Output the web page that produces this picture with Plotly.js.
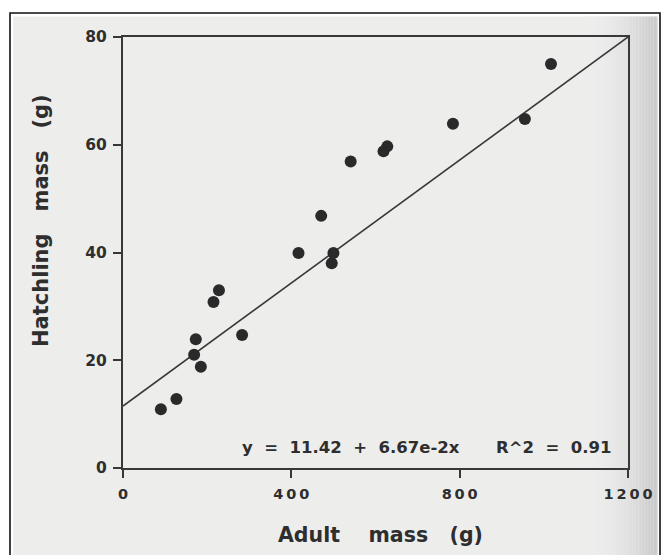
<!DOCTYPE html>
<html>
<head>
<meta charset="utf-8">
<script src="https://cdn.plot.ly/plotly-3.0.1.min.js"></script>
<style>html,body{margin:0;padding:0;background:#fff;}#chart{width:663px;height:555px;}</style>
</head>
<body>
<div id="chart"></div>
<script>
// ---- data ----
var adultMass = [90, 127, 169, 173, 185, 215, 228, 283, 417, 471, 496, 500, 541, 619, 628, 784, 955, 1017];
var hatchMass = [10.9, 12.8, 21.0, 23.9, 18.8, 30.8, 33.0, 24.7, 39.9, 46.8, 38.0, 39.9, 56.9, 58.8, 59.7, 63.9, 64.8, 75.0];
var fitX = [0, 1200];
var fitY = [11.5, 80];
var xTickVals = [0, 400, 800, 1200];
var xTickText = ['0', '4\u20090\u20090', '8\u20090\u20090', '1\u20092\u20090\u20090'];
var yTickVals = [0, 20, 40, 60, 80];
var yTickText = ['0', '20', '40', '60', '80'];
var equationText = 'y\u00a0\u00a0=\u00a0\u00a011.42\u00a0\u00a0+\u00a0\u00a06.67e-2x';
var r2Text = 'R^2\u00a0\u00a0=\u00a0\u00a00.91';
var xTitle = 'Adult\u00a0\u00a0\u00a0\u00a0mass\u00a0\u00a0\u00a0(g)';
var yTitle = 'Hatchling\u00a0\u00a0\u00a0mass\u00a0\u00a0\u00a0(g)';

// ---- layout geometry (pixels -> paper) ----
var W = 663, H = 555;
var mL = 123, mR = 35, mT = 37, mB = 87;
var pw = W - mL - mR, ph = H - mT - mB;
function px(x) { return (x - mL) / pw; }
function py(y) { return (H - mB - y) / ph; }

var ink = '#2e2e2e';
var font = function (s) { return {family: 'DejaVu Sans', weight: 'bold', size: s, color: ink}; };

var shapes = [];
// scanned paper background
shapes.push({type: 'rect', xref: 'paper', yref: 'paper', layer: 'below',
  x0: px(13), x1: px(657.5), y0: py(16.5), y1: py(560), fillcolor: '#ededec', line: {width: 0}});
// smooth darkening towards the page gutter on the right
for (var gx = 586; gx < 657.5; gx += 1.5) {
  var t = (gx - 586) / (657.5 - 586);
  var c = Math.round(237 - 38 * t * t);
  shapes.push({type: 'rect', xref: 'paper', yref: 'paper', layer: 'below',
    x0: px(gx), x1: px(Math.min(gx + 1.6, 657.5)), y0: py(16.5), y1: py(560),
    fillcolor: 'rgb(' + c + ',' + c + ',' + c + ')', line: {width: 0}});
}
// outer black frame
shapes.push({type: 'rect', xref: 'paper', yref: 'paper', layer: 'below',
  x0: px(10), x1: px(660), y0: py(13), y1: py(570), fillcolor: 'rgba(0,0,0,0)', line: {color: '#111', width: 1.6}});

var traces = [
  {x: fitX, y: fitY, type: 'scatter', mode: 'lines', cliponaxis: false,
   line: {color: '#383838', width: 1.6}, hoverinfo: 'skip', showlegend: false},
  {x: adultMass, y: hatchMass, type: 'scatter', mode: 'markers', cliponaxis: false,
   marker: {color: '#2a2a2a', size: 12, line: {width: 0}}, showlegend: false}
];

var layout = {
  width: W, height: H,
  margin: {l: mL, r: mR, t: mT, b: mB, pad: 0},
  paper_bgcolor: '#ffffff', plot_bgcolor: 'rgba(0,0,0,0)',
  showlegend: false,
  xaxis: {range: [0, 1200], tickmode: 'array', tickvals: xTickVals, ticktext: xTickText,
    showgrid: false, zeroline: false, showline: true, mirror: true, linecolor: '#383838', linewidth: 2,
    ticks: 'outside', ticklen: 8, tickwidth: 2, tickcolor: '#383838', tickfont: font(14.5),
    ticklabelstandoff: 4, fixedrange: true},
  yaxis: {range: [0, 80], tickmode: 'array', tickvals: yTickVals, ticktext: yTickText,
    showgrid: false, zeroline: false, showline: true, mirror: true, linecolor: '#383838', linewidth: 2,
    ticks: 'outside', ticklen: 8, tickwidth: 2, tickcolor: '#383838', tickfont: font(15.5),
    ticklabelstandoff: 3, fixedrange: true},
  shapes: shapes,
  annotations: [
    {xref: 'paper', yref: 'paper', x: px(240), y: py(447), xanchor: 'left', yanchor: 'middle',
     text: equationText, showarrow: false, font: font(16.5)},
    {xref: 'paper', yref: 'paper', x: px(614), y: py(447), xanchor: 'right', yanchor: 'middle',
     text: r2Text, showarrow: false, font: font(16.5)},
    {xref: 'paper', yref: 'paper', x: px(380), y: py(535), xanchor: 'center', yanchor: 'middle',
     text: xTitle, showarrow: false, font: font(20.5)},
    {xref: 'paper', yref: 'paper', x: px(41), y: py(221), xanchor: 'center', yanchor: 'middle',
     text: yTitle, textangle: -90, showarrow: false, font: font(21)}
  ]
};

Plotly.newPlot('chart', traces, layout, {staticPlot: true, displayModeBar: false});
</script>
</body>
</html>
